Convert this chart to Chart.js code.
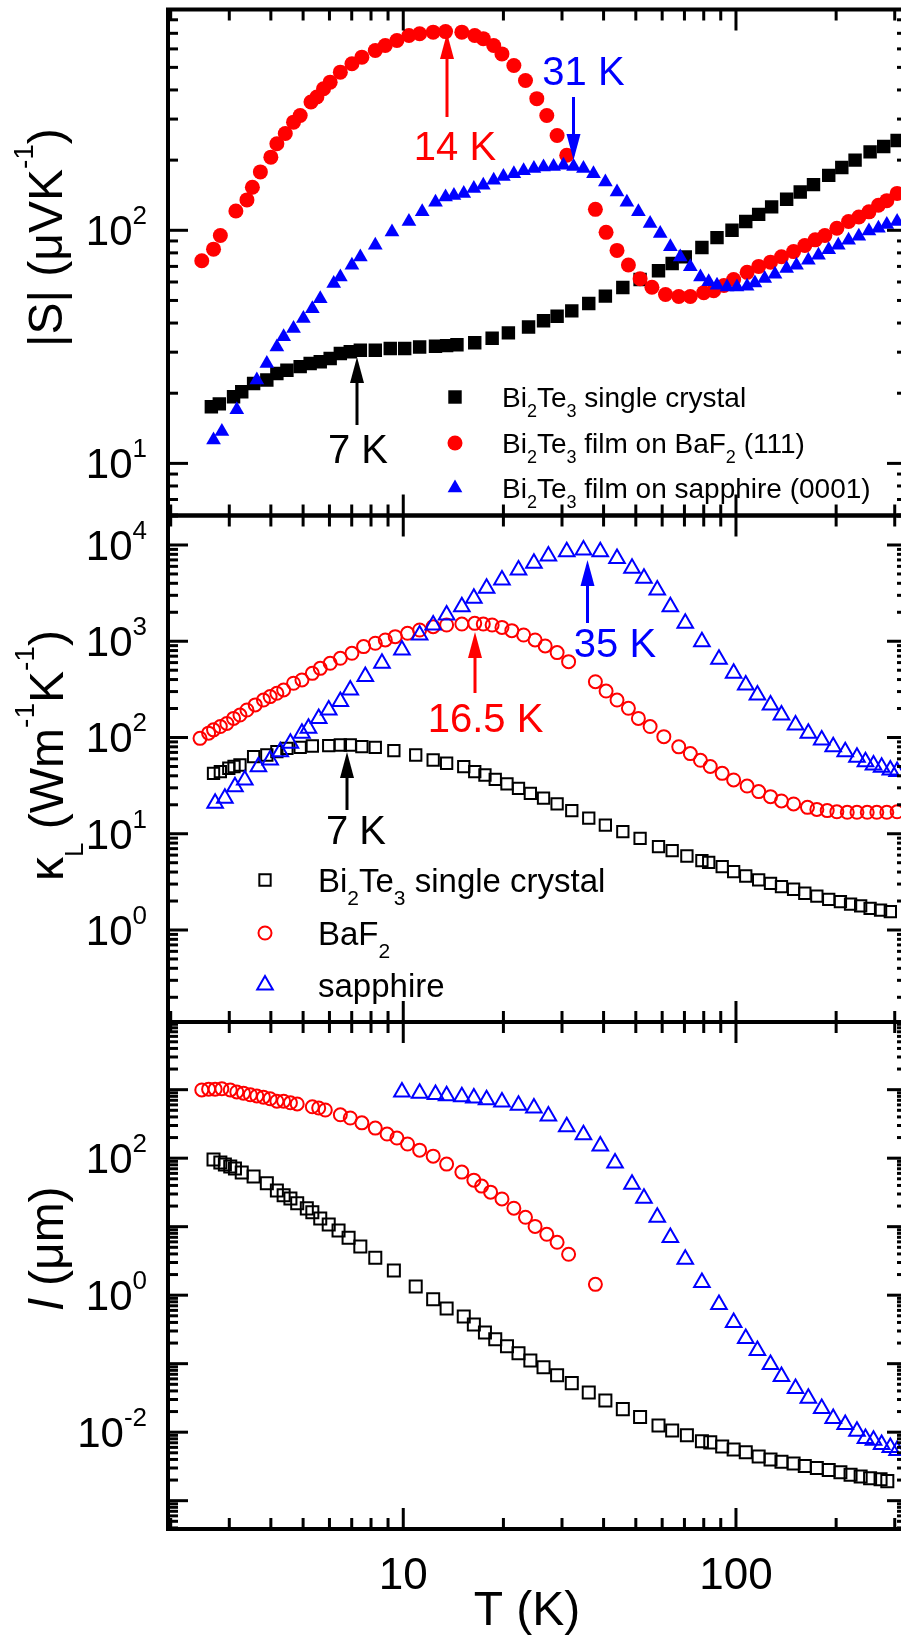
<!DOCTYPE html>
<html><head><meta charset="utf-8">
<script src="https://cdn.jsdelivr.net/npm/chart.js@4.4.1/dist/chart.umd.min.js"></script>
<style>
html,body{margin:0;padding:0;background:#fff;}
#wrap{position:relative;width:901px;height:1638px;overflow:hidden;background:#fff;}
#wrap canvas{position:absolute;left:0;top:0;}
</style></head><body>
<div id="wrap">
<canvas id="c1" width="920" height="1638"></canvas>
<canvas id="c2" width="920" height="1638"></canvas>
<canvas id="c3" width="920" height="1638"></canvas>
</div>
<script>
// ---------- DATA ----------
// Panel 1: |S| (uV/K) vs T (K)
const T_S_crystal = [2.65,2.8,3.09,3.27,3.55,3.89,4.17,4.47,4.9,5.25,5.63,6.03,6.47,6.93,7.43,8.24,9.14,10.1,11.2,12.5,13.5,14.5,16.4,18.5,20.7,23.8,26.4,29.0,32.1,36.1,40.5,45.7,51.5,58.5,64.3,70.4,79.0,87.7,97.3,107,117,128,142,156,171,190,208,228,253,278,305];
const S_crystal   = [17.5,18.0,19.3,20.3,22.0,22.8,24.3,25.1,26.0,26.8,27.3,28.2,29.6,30.1,30.6,30.6,31.1,31.1,31.6,31.8,32.0,32.3,32.9,34.4,36.3,38.5,40.9,42.8,45.1,48.5,52.2,56.8,61.5,67,72,76.9,84.4,93,100,109,117,126,136,146,157,172,186,200,217,229,243];
const T_S_BaF2 = [2.48,2.69,2.82,3.14,3.39,3.52,3.72,4.00,4.17,4.42,4.68,4.90,5.28,5.50,5.76,6.03,6.47,7.01,7.51,8.24,8.83,9.57,10.4,11.2,12.3,13.4,15.0,16.4,17.4,18.7,19.8,21.5,23.3,25.2,27.0,29.0,31.0,37.8,40.7,43.9,47.5,51.5,55.9,61.4,67.3,72.9,80.0,85.7,92,98.4,108,117,127,137,149,161,173,185,201,218,234,251,268,284,305];
const S_BaF2   = [74,83,95,121,135,153,178,206,235,260,291,311,355,373,405,432,477,518,553,591,621,652,685,697,708,712,708,685,664,621,571,509,439,367,311,255,210,123,98,82,71,62,57,53,52,52,54,55,58,61.5,66,70,73,77,81,86,91,95,102,109,114,120,128,134,144];
const T_S_sapph = [2.69,2.85,3.16,3.63,3.89,4.17,4.37,4.68,5.01,5.33,5.63,6.18,6.47,7.01,7.43,8.24,9.25,10.4,11.4,12.5,13.4,14.2,15.2,16.3,17.4,18.7,20.0,21.5,23.0,24.7,26.4,28.3,30.3,32.5,34.8,37.3,40.5,43.9,47.0,50.9,55.2,59.2,63.5,68.0,72.9,78.2,82.8,87.7,94.0,100.7,108,114,122,131,142,152,165,177,190,203,218,234,251,268,284,305];
const S_sapph   = [12.6,13.7,17.0,22.8,26.8,31.6,34.9,37.9,41.8,46.1,50.9,59.1,63.1,70.8,76.9,86.3,98.4,109,120,132,139,141,144,151,156,164,170,175,180,184,187,188,190,188,184,175,161,146,132,120,107,96.8,84.9,76.9,69.7,63.1,60.1,58.1,57.1,57.1,57.5,59.4,62.1,64.8,68.5,70.8,74.4,78.2,82.6,86.3,90.6,94.3,99.3,102,106,109];

// Panel 2: kappa_L (W/mK) vs T (K)
const T_k_crystal = [2.69,2.82,2.99,3.1,3.23,3.55,3.89,4.17,4.47,4.9,5.33,5.97,6.47,6.93,7.51,8.24,9.37,10.9,12.3,13.5,15.2,16.4,17.6,18.9,20.5,22.2,24.1,26.4,29.0,32.1,36.1,40.5,45.7,51.5,58.5,64.3,71.2,79.0,82.8,90.9,98.4,107,117,127,137,149,161,175,190,206,221,237,253,272,291];
const K_crystal   = [42.4,44.2,47.9,50,51.8,63.2,65.8,71.2,77.1,79,81.6,82.2,83.6,83.6,80.3,79,73,65.8,58.4,54,49.8,44.2,40.8,36.7,32.9,29.6,26.3,23.4,20.4,17.4,14.5,12.3,10.5,8.96,7.34,6.67,5.87,5.25,5.05,4.55,4.04,3.64,3.31,3.05,2.82,2.65,2.41,2.25,2.08,1.97,1.86,1.78,1.68,1.61,1.55];
const T_k_BaF2 = [2.45,2.60,2.69,2.82,2.95,3.09,3.23,3.39,3.59,3.80,3.98,4.17,4.37,4.68,4.96,5.33,5.63,6.03,6.47,7.01,7.60,8.24,8.83,9.46,10.3,11.2,12.3,13.5,15.0,16.4,17.4,18.5,19.8,21.2,23.0,24.9,26.7,29.0,31.4,37.8,40.7,43.9,47.5,50.9,55.2,60.7,67.3,72.9,78.2,83.7,90.9,98.4,108,117,127,137,149,164,175,188,201,216,231,248,265,284,305];
const K_BaF2   = [98,111,120,130,140,158,171,193,218,245,266,288,312,366,396,464,523,590,665,750,880,953,1031,1116,1209,1309,1418,1475,1510,1535,1510,1475,1393,1288,1161,1031,893,762,614,380,304,245,201,158,130,102,80,68,58,50,42.4,36.2,31.3,27.4,24.3,21.9,20.4,18.8,17.9,17.4,16.9,16.7,16.7,16.7,16.7,16.7,16.9];
const T_k_sapph = [2.72,2.91,3.12,3.34,3.67,3.98,4.27,4.58,4.96,5.19,5.57,5.97,6.47,6.93,7.69,8.63,9.91,11.2,12.3,13.5,15.0,16.3,17.8,19.8,22.2,24.7,27.3,31.0,34.8,39.1,43.9,48.7,52.9,58.0,63.5,70.4,79.0,88.9,98.4,107,116,127,137,151,165,181,196,213,231,245,259,274,291,305];
const K_sapph   = [20.7,23.4,30.8,36.2,49.8,58.4,71.2,87.1,111,125,158,193,236,312,429,590,811,1161,1475,1875,2285,2790,3548,4328,5495,6457,7690,8530,8873,8530,7260,5730,4510,3405,2285,1535,989,649,464,351,276,218,171,135,111,94.2,80.3,71.2,62.3,56.1,51.8,49,45.9,44.2];

// Panel 3: mean free path l (um) vs T (K)
const T_l_crystal = [2.69,2.82,2.91,3.02,3.12,3.27,3.55,3.89,4.17,4.37,4.58,4.80,5.13,5.33,5.63,5.97,6.39,6.85,7.43,8.24,9.37,10.9,12.3,13.5,15.2,16.3,17.6,18.9,20.5,22.2,24.1,26.4,29.0,32.1,36.1,40.5,45.7,51.5,58.5,64.3,71.2,79.0,83.7,90.9,98.4,107,117,127,137,149,161,175,190,206,221,237,253,272,285];
const L_crystal   = [96,86.5,81,75.7,70.7,62,54.2,43.1,33.8,28.8,25.8,22,18.5,16.2,13.2,10.8,8.8,6.9,5.14,3.53,2.30,1.34,0.87,0.64,0.49,0.374,0.286,0.228,0.179,0.142,0.111,0.089,0.068,0.052,0.038,0.0291,0.0217,0.0166,0.0125,0.0106,0.0090,0.0074,0.0071,0.0062,0.0056,0.0051,0.0044,0.0040,0.0037,0.0035,0.0032,0.0030,0.0028,0.0026,0.0024,0.00226,0.00212,0.00206,0.00193];
const T_l_BaF2 = [2.48,2.60,2.72,2.85,3.02,3.16,3.31,3.47,3.63,3.80,3.98,4.17,4.37,4.58,4.80,5.33,5.57,5.83,6.47,6.93,7.51,8.24,8.94,9.57,10.3,11.2,12.3,13.5,15.0,16.3,17.2,18.3,19.8,21.5,23.3,24.9,27.0,29.0,31.4,37.8];
const L_BaF2   = [990,1018,1018,1031,990,926,890,843,810,778,737,679,679,644,619,562,540,505,430,386,328,275,225,197,161,131,107,82,62.6,47.8,39.1,31.9,25.4,18.6,13.7,10.1,7.74,5.92,3.95,1.44];
const T_l_sapph = [9.91,11.2,12.5,13.5,15.0,16.3,17.8,19.8,22.2,24.7,27.3,31.0,34.8,39.1,43.3,48.7,52.9,58.0,63.5,70.4,79.0,88.9,98.4,107,116,127,137,151,165,181,196,213,231,245,259,274,291,305];
const L_sapph   = [927,890,850,815,790,755,713,660,594,540,412,287,219,150,85,41.5,26,13.7,6.93,3.35,1.53,0.733,0.40,0.234,0.156,0.0976,0.0652,0.0436,0.0312,0.0222,0.0159,0.0130,0.0103,0.0081,0.0076,0.0066,0.0060,0.0054];

// tick labels
const xTickLabels = [10, 100];
const yExp1 = [1, 2];
const yExp2 = [0, 1, 2, 3, 4];
const yExp3 = [-2, 0, 2];

// ---------- DRAWING HELPERS ----------
const FONT = '"Liberation Sans", Arial, Helvetica, sans-serif';
const RED = '#ff0000', BLUE = '#0000ff', BLACK = '#000000';
function setFont(ctx, size, italic) { ctx.font = (italic ? 'italic ' : '') + size + 'px ' + FONT; }
function richWidth(ctx, segs) { let w = 0; for (const s of segs) { setFont(ctx, s.size, s.italic); w += ctx.measureText(s.t).width; } return w; }
function drawRich(ctx, x, y, segs) {
  let cx = x;
  ctx.textAlign = 'left'; ctx.textBaseline = 'alphabetic';
  for (const s of segs) { setFont(ctx, s.size, s.italic); ctx.fillText(s.t, cx, y + (s.dy || 0)); cx += ctx.measureText(s.t).width; }
}
function pts(xs, ys) { return xs.map((x, i) => ({ x: x, y: ys[i] })); }
function drawMarker(ctx, style, r, x, y, color, open) {
  ctx.save();
  ctx.fillStyle = open ? 'rgba(0,0,0,0)' : color;
  ctx.strokeStyle = color; ctx.lineWidth = open ? 2 : 0;
  if (Chart.helpers && Chart.helpers.drawPoint) {
    Chart.helpers.drawPoint(ctx, { pointStyle: style, radius: r, rotation: 0, borderWidth: open ? 2 : 0 }, x, y);
  }
  ctx.restore();
}
function arrow(ctx, x, yTail, yTip, color) {
  const dir = yTip < yTail ? -1 : 1, hl = 26, hw = 7;
  ctx.save();
  ctx.strokeStyle = color; ctx.fillStyle = color; ctx.lineWidth = 3;
  ctx.beginPath(); ctx.moveTo(x, yTail); ctx.lineTo(x, yTip - dir * (hl - 2)); ctx.stroke();
  ctx.beginPath(); ctx.moveTo(x, yTip); ctx.lineTo(x - hw, yTip - dir * hl); ctx.lineTo(x + hw, yTip - dir * hl); ctx.closePath(); ctx.fill();
  ctx.restore();
}
function centerText(ctx, t, x, y, size, color) {
  ctx.save(); ctx.fillStyle = color; setFont(ctx, size); ctx.textAlign = 'center'; ctx.textBaseline = 'alphabetic';
  ctx.fillText(t, x, y); ctx.restore();
}
const sub = (t, size, dy) => ({ t: t, size: size, dy: dy });
function bi2te3(main, subS, subDy) { return [{ t: 'Bi', size: main }, sub('2', subS, subDy), { t: 'Te', size: main }, sub('3', subS, subDy)]; }

// ---------- PANELS ----------
const W = 920, H = 1638;
const X_MIN = 1.963, X_MAX = 326.6, PLOT_LEFT = 168, PLOT_RIGHT = 907;

const panels = [
  {
    id: 'c1', top: 9, bottom: 515.5, ymin: 5.976, ymax: 885.6, yExp: yExp1, xLabels: false,
    datasets: [
      { label: 'Bi2Te3 single crystal', data: pts(T_S_crystal, S_crystal), style: 'rect', r: 9.5, color: BLACK, open: false, order: 3 },
      { label: 'Bi2Te3 film on BaF2 (111)', data: pts(T_S_BaF2, S_BaF2), style: 'circle', r: 7.5, color: RED, open: false, order: 2 },
      { label: 'Bi2Te3 film on sapphire (0001)', data: pts(T_S_sapph, S_sapph), style: 'triangle', r: 8.5, color: BLUE, open: false, order: 1 }
    ],
    title: { x: 62, y: 347, segs: [{ t: '|S| (\u03bcVK', size: 48 }, { t: '-1', size: 28, dy: -29 }, { t: ')', size: 48 }] },
    arrows: [
      { x: 447, tail: 117, tip: 33, color: RED, text: '14 K', tx: 455, ty: 160 },
      { x: 573.5, tail: 97, tip: 160, color: BLUE, text: '31 K', tx: 583.5, ty: 85 },
      { x: 357, tail: 425, tip: 357, color: BLACK, text: '7 K', tx: 358, ty: 463 }
    ],
    legend: {
      mx: 455, tx: 502, rows: [
        { y: 397, ds: 0, segs: bi2te3(28, 18, 10).concat([{ t: ' single crystal', size: 28 }]) },
        { y: 443, ds: 1, segs: bi2te3(28, 18, 10).concat([{ t: ' film on BaF', size: 28 }, sub('2', 18, 10), { t: ' (111)', size: 28 }]) },
        { y: 488, ds: 2, segs: bi2te3(28, 18, 10).concat([{ t: ' film on sapphire (0001)', size: 28 }]) }
      ], base: 10
    }
  },
  {
    id: 'c2', top: 515.5, bottom: 1022, ymin: 0.1107, ymax: 20250, yExp: yExp2, xLabels: false,
    datasets: [
      { label: 'Bi2Te3 single crystal', data: pts(T_k_crystal, K_crystal), style: 'rect', r: 8, color: BLACK, open: true, order: 3 },
      { label: 'BaF2', data: pts(T_k_BaF2, K_BaF2), style: 'circle', r: 6.5, color: RED, open: true, order: 2 },
      { label: 'sapphire', data: pts(T_k_sapph, K_sapph), style: 'triangle', r: 9, color: BLUE, open: true, order: 1 }
    ],
    title: { x: 63, y: 881, segs: [{ t: '\u03ba', size: 48 }, { t: 'L', size: 26, dy: 20 }, { t: ' (Wm', size: 48 }, { t: '-1', size: 28, dy: -29 }, { t: 'K', size: 48 }, { t: '-1', size: 28, dy: -29 }, { t: ')', size: 48 }] },
    arrows: [
      { x: 475, tail: 693, tip: 632, color: RED, text: '16.5 K', tx: 485.5, ty: 732 },
      { x: 587.5, tail: 623, tip: 560, color: BLUE, text: '35 K', tx: 615, ty: 657 },
      { x: 347, tail: 810, tip: 752, color: BLACK, text: '7 K', tx: 356, ty: 844 }
    ],
    legend: {
      mx: 265, tx: 318, rows: [
        { y: 880, ds: 0, segs: bi2te3(33, 21, 13).concat([{ t: ' single crystal', size: 33 }]) },
        { y: 933, ds: 1, segs: [{ t: 'BaF', size: 33 }, sub('2', 21, 13)] },
        { y: 985, ds: 2, segs: [{ t: 'sapphire', size: 33 }] }
      ], base: 12
    }
  },
  {
    id: 'c3', top: 1022, bottom: 1529, ymin: 3.86e-4, ymax: 9727, yExp: yExp3, xLabels: true,
    datasets: [
      { label: 'Bi2Te3 single crystal', data: pts(T_l_crystal, L_crystal), style: 'rect', r: 8.5, color: BLACK, open: true, order: 3 },
      { label: 'BaF2', data: pts(T_l_BaF2, L_BaF2), style: 'circle', r: 6.5, color: RED, open: true, order: 2 },
      { label: 'sapphire', data: pts(T_l_sapph, L_sapph), style: 'triangle', r: 9, color: BLUE, open: true, order: 1 }
    ],
    title: { x: 63, y: 1310, segs: [{ t: 'l', size: 48, italic: true }, { t: ' (\u03bcm)', size: 48 }] },
    arrows: [], legend: null
  }
];

const panelPlugin = {
  id: 'panelDecor',
  afterDraw(chart) {
    const p = chart.options.plugins.panelDecor.panel;
    const ctx = chart.ctx, xs = chart.scales.x, ys = chart.scales.y, a = chart.chartArea;
    ctx.save();
    ctx.strokeStyle = '#000'; ctx.fillStyle = '#000'; ctx.lineCap = 'butt';
    const seg = (x1, y1, x2, y2) => { ctx.beginPath(); ctx.moveTo(x1, y1); ctx.lineTo(x2, y2); ctx.stroke(); };
    ctx.lineWidth = 3;
    // x ticks (top and bottom, inward)
    for (let d = 0; d <= 2; d++) for (let m = 1; m <= 9; m++) {
      const v = m * Math.pow(10, d);
      if (v < xs.min || v > xs.max) continue;
      const px = xs.getPixelForValue(v), L = m === 1 ? 21 : 11;
      seg(px, a.top, px, a.top + L); seg(px, a.bottom, px, a.bottom - L);
    }
    // y ticks (left and right, inward)
    const d0 = Math.floor(Math.log10(ys.min)), d1 = Math.ceil(Math.log10(ys.max));
    for (let d = d0; d <= d1; d++) for (let m = 1; m <= 9; m++) {
      const v = m * Math.pow(10, d);
      if (v < ys.min * 0.9999 || v > ys.max * 1.0001) continue;
      const py = ys.getPixelForValue(v), L = m === 1 ? 20 : 10;
      seg(a.left, py, a.left + L, py); seg(a.right, py, a.right - L, py);
    }
    ctx.lineWidth = 4;
    ctx.strokeRect(a.left, a.top, a.right - a.left, a.bottom - a.top);
    // y tick labels
    ctx.fillStyle = '#000';
    for (const e of p.yExp) {
      const py = ys.getPixelForValue(Math.pow(10, e));
      const segs = [{ t: '10', size: 42 }, { t: String(e), size: 26, dy: -21 }];
      const w = richWidth(ctx, segs);
      drawRich(ctx, 147 - w, py + 15, segs);
    }
    // x tick labels + x title
    if (p.xLabels) {
      for (const v of xTickLabels) centerText(ctx, String(v), xs.getPixelForValue(v), 1589, 44, '#000');
      centerText(ctx, 'T (K)', 527, 1625, 48, '#000');
    }
    // y title (rotated)
    ctx.save();
    ctx.translate(p.title.x, p.title.y); ctx.rotate(-Math.PI / 2);
    ctx.fillStyle = '#000';
    drawRich(ctx, 0, 0, p.title.segs);
    ctx.restore();
    // annotations
    for (const ar of p.arrows) {
      arrow(ctx, ar.x, ar.tail, ar.tip, ar.color);
      centerText(ctx, ar.text, ar.tx, ar.ty, 40, ar.color);
    }
    // legend
    if (p.legend) {
      for (const row of p.legend.rows) {
        const ds = p.datasets[row.ds];
        drawMarker(ctx, ds.style, ds.r, p.legend.mx, row.y, ds.color, ds.open);
        ctx.fillStyle = '#000';
        drawRich(ctx, p.legend.tx, row.y + p.legend.base, row.segs);
      }
    }
    ctx.restore();
  }
};

for (const p of panels) {
  new Chart(document.getElementById(p.id), {
    type: 'scatter',
    data: {
      datasets: p.datasets.map(d => ({
        label: d.label, data: d.data, order: d.order, showLine: false,
        pointStyle: d.style, pointRadius: d.r, pointHoverRadius: d.r,
        pointBackgroundColor: d.open ? 'rgba(0,0,0,0)' : d.color,
        pointBorderColor: d.color, pointBorderWidth: d.open ? 2 : 0,
        backgroundColor: d.color, borderColor: d.color
      }))
    },
    options: {
      responsive: false, animation: false, devicePixelRatio: 1,
      layout: { padding: { left: PLOT_LEFT, right: W - PLOT_RIGHT, top: p.top, bottom: H - p.bottom } },
      scales: {
        x: { type: 'logarithmic', min: X_MIN, max: X_MAX, display: false },
        y: { type: 'logarithmic', min: p.ymin, max: p.ymax, display: false }
      },
      plugins: { legend: { display: false }, tooltip: { enabled: false }, panelDecor: { panel: p } },
      events: []
    },
    plugins: [panelPlugin]
  });
}
</script>
</body></html>
